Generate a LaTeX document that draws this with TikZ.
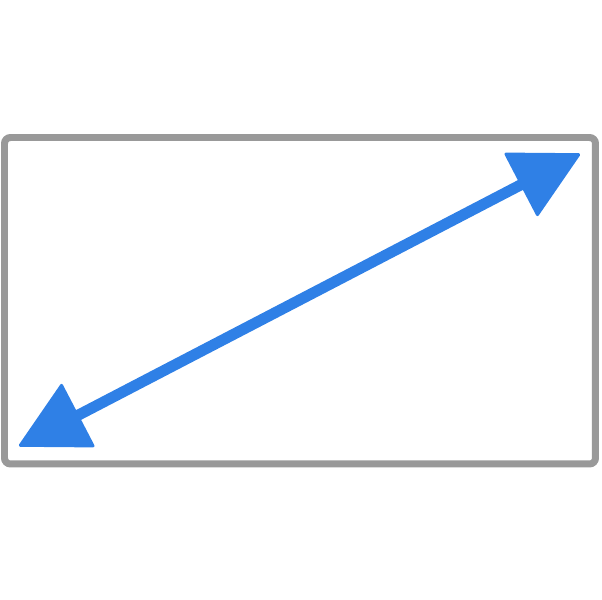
\documentclass[tikz,border=0pt]{standalone}
\usetikzlibrary{arrows.meta, positioning}

\definecolor{framegray}{HTML}{999999}
\definecolor{arrowblue}{HTML}{2F80E6}

\begin{document}
\begin{tikzpicture}[x=0.01cm, y=-0.01cm,
	frame/.style={draw=framegray, line width=1.99pt, rounded corners=1.7pt},
	arrowline/.style={draw=arrowblue, line width=3.13pt,
		{Triangle[length=19.6pt, width=20.6pt, line width=0.85pt, round]}-{Triangle[length=19.6pt, width=20.6pt, line width=0.85pt, round]}}]

	\useasboundingbox (0,0) rectangle (602,600);

	\coordinate (TL) at (4.5,137.5);
	\coordinate (BR) at (595.5,464);
	\draw[frame] (TL) rectangle (BR);

	\coordinate (lo) at (19,446);
	\coordinate (hi) at (580,154);
	\draw[arrowline] (lo) -- (hi);

\end{tikzpicture}
\end{document}
